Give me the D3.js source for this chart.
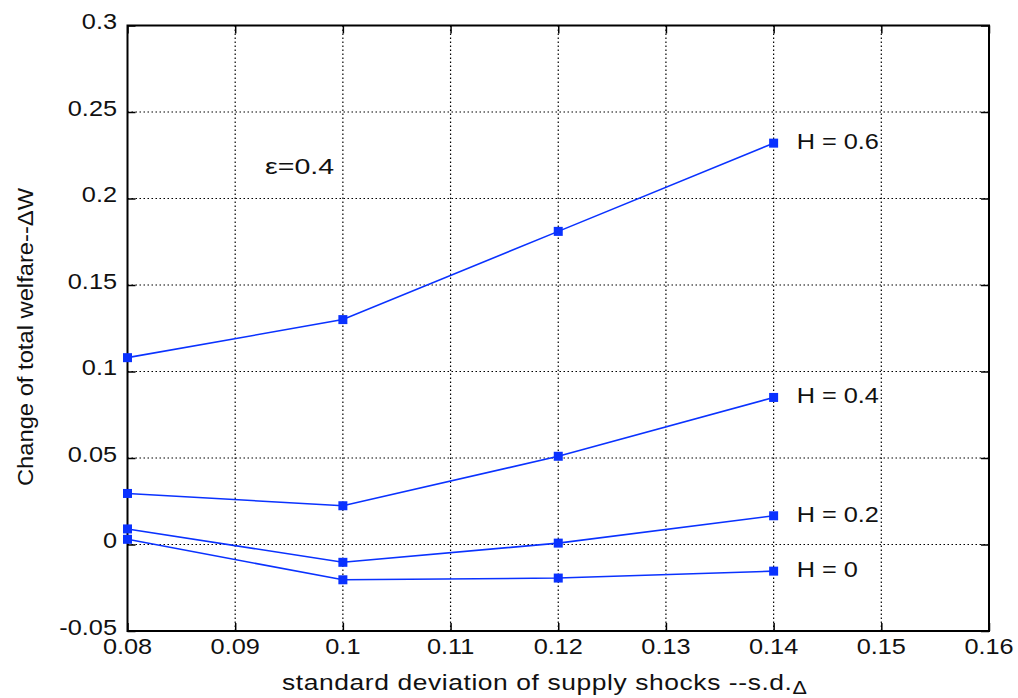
<!DOCTYPE html>
<html><head><meta charset="utf-8">
<script src="https://cdn.jsdelivr.net/npm/d3@7"></script>
<style>body{margin:0;background:#fff}text{font-family:"Liberation Sans",Arial,sans-serif;fill:#111}</style>
</head><body><svg id="c" width="1018" height="698"></svg>
<script>
const xValues = [0.08, 0.10, 0.12, 0.14];
const seriesNames = ["H = 0.6", "H = 0.4", "H = 0.2", "H = 0"];
const h06 = [0.108, 0.130, 0.181, 0.232];
const h04 = [0.0295, 0.0224, 0.051, 0.085];
const h02 = [0.009, -0.0103, 0.0008, 0.0166];
const h00 = [0.003, -0.0204, -0.0194, -0.0154];
const xTicks = [0.08, 0.09, 0.10, 0.11, 0.12, 0.13, 0.14, 0.15, 0.16];
const yTicks = [-0.05, 0, 0.05, 0.1, 0.15, 0.2, 0.25, 0.3];
const xTickLabels = ["0.08","0.09","0.1","0.11","0.12","0.13","0.14","0.15","0.16"];
const yTickLabels = ["-0.05","0","0.05","0.1","0.15","0.2","0.25","0.3"];
const series = [h06, h04, h02, h00];

const svg = d3.select("#c");
const L = 127.5, R = 989, T = 25.5, B = 631;
const x = d3.scaleLinear().domain([0.08, 0.16]).range([L, R]);
const y = d3.scaleLinear().domain([-0.05, 0.3]).range([B, T]);
const blue = "#0a32ff";
const fs = 22;

function txt(px, py, str, anchor, sx, rot) {
  const g = svg.append("g").attr("transform", `translate(${px},${py})` + (rot ? ` rotate(${rot})` : "") + ` scale(${sx},1)`);
  return g.append("text").attr("text-anchor", anchor || "start").attr("font-size", fs).text(str);
}

// grid
const g = svg.append("g");
g.selectAll("line.vg").data(xTicks.slice(1, -1)).join("line")
  .attr("x1", d => x(d)).attr("x2", d => x(d)).attr("y1", T).attr("y2", B)
  .attr("stroke", "#000").attr("stroke-width", 1.2).attr("stroke-dasharray", "1.5,2.5");
g.selectAll("line.hg").data(yTicks.slice(1, -1)).join("line")
  .attr("y1", d => y(d)).attr("y2", d => y(d)).attr("x1", L).attr("x2", R)
  .attr("stroke", "#000").attr("stroke-width", 1.2).attr("stroke-dasharray", "1.5,2.5");

// axes with inward ticks (labels drawn separately)
const ax = svg.append("g");
const tl = 8;
ax.append("g").attr("transform", `translate(0,${B})`)
  .call(d3.axisBottom(x).tickValues(xTicks).tickSize(-tl).tickFormat(""));
ax.append("g").attr("transform", `translate(0,${T})`)
  .call(d3.axisTop(x).tickValues(xTicks).tickSize(-tl).tickFormat(""));
ax.append("g").attr("transform", `translate(${L},0)`)
  .call(d3.axisLeft(y).tickValues(yTicks).tickSize(-tl).tickFormat(""));
ax.append("g").attr("transform", `translate(${R},0)`)
  .call(d3.axisRight(y).tickValues(yTicks).tickSize(-tl).tickFormat(""));
ax.selectAll(".domain").remove();
ax.selectAll(".tick line").attr("stroke", "#000").attr("stroke-width", 1.5);

xTicks.forEach((d, i) => txt(x(d), 654, xTickLabels[i], "middle", 1.15));
yTicks.forEach((d, i) => txt(117, y(d) + 3.5, yTickLabels[i], "end", 1.15));

svg.append("rect").attr("x", L).attr("y", T).attr("width", R - L).attr("height", B - T)
  .attr("fill", "none").attr("stroke", "#000").attr("stroke-width", 2);

// series
const line = d3.line().x((d, i) => x(xValues[i])).y(d => y(d));
series.forEach((s, k) => {
  svg.append("path").datum(s).attr("d", line).attr("fill", "none").attr("stroke", blue).attr("stroke-width", 1.6);
  svg.selectAll(null).data(s).join("rect")
    .attr("x", (d, i) => x(xValues[i]) - 4.5).attr("y", d => y(d) - 4.5)
    .attr("width", 9).attr("height", 9).attr("fill", blue);
  txt(x(xValues[3]) + 23, y(s[3]) + 6, seriesNames[k], "start", 1.15);
});

// annotation
txt(265, 174, "ε=0.4", "start", 1.3);

// axis labels
const xl = txt(282, 690, "", "start", 1.2).attr("letter-spacing", 0.5);
xl.append("tspan").text("standard deviation of supply shocks --s.d.");
xl.append("tspan").attr("font-size", 18).attr("dy", 4).text("Δ");

txt(33, 337, "Change of total welfare--ΔW", "middle", 1.08, -90);
</script></body></html>
